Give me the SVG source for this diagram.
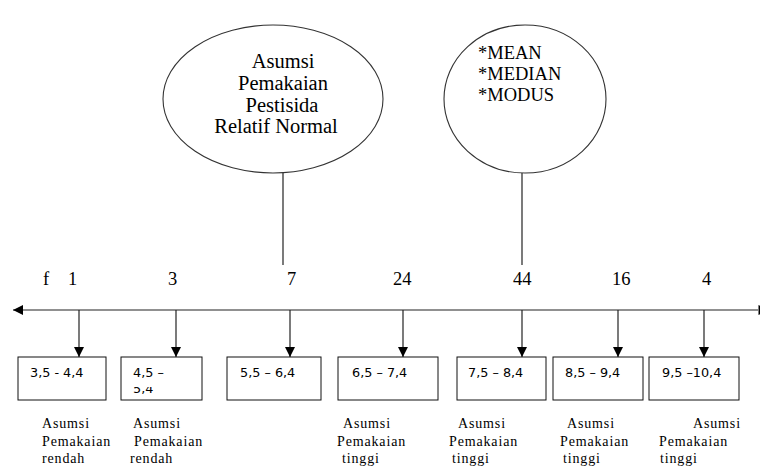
<svg xmlns="http://www.w3.org/2000/svg" width="760" height="468" viewBox="0 0 760 468">
<style>
.ln{stroke:#222;stroke-width:1.2;fill:none}
.shape{fill:#fff;stroke:#333;stroke-width:1.1}
.box{fill:#fff;stroke:#111;stroke-width:1}
.big{font-family:"Liberation Serif","Times New Roman","DejaVu Serif",serif;font-size:20.5px;fill:#000}
.num{font-family:"Liberation Serif","Times New Roman","DejaVu Serif",serif;font-size:18.5px;fill:#000}
.rng{font-family:"DejaVu Sans",sans-serif;font-size:12.8px;fill:#000}
.lab{font-family:"Liberation Serif","Times New Roman","DejaVu Serif",serif;font-size:14px;letter-spacing:0.85px;fill:#000}
</style>
<defs>
<marker id="ah" markerWidth="10" markerHeight="10" refX="10" refY="5" orient="auto" markerUnits="userSpaceOnUse">
<path d="M0,0 L10,5 L0,10 Z" fill="#000"/>
</marker>
<clipPath id="clip2"><rect x="121" y="387" width="81" height="13"/></clipPath>
</defs>
<g id="connectors">
<line class="ln" x1="758" y1="310" x2="13" y2="310" marker-end="url(#ah)"/>
<path d="M758.5,305 L768,310 L758.5,315 Z" fill="#000"/>
<line class="ln" x1="283" y1="173" x2="283" y2="265"/>
<line class="ln" x1="522" y1="173" x2="522" y2="265"/>
<line class="ln" x1="79" y1="310" x2="79" y2="357" marker-end="url(#ah)"/>
<line class="ln" x1="176" y1="310" x2="176" y2="357" marker-end="url(#ah)"/>
<line class="ln" x1="290" y1="310" x2="290" y2="357" marker-end="url(#ah)"/>
<line class="ln" x1="403" y1="310" x2="403" y2="357" marker-end="url(#ah)"/>
<line class="ln" x1="522" y1="310" x2="522" y2="357" marker-end="url(#ah)"/>
<line class="ln" x1="618" y1="310" x2="618" y2="357" marker-end="url(#ah)"/>
<line class="ln" x1="704" y1="310" x2="704" y2="357" marker-end="url(#ah)"/>
</g>
<g id="ellipse-normal">
<ellipse class="shape" cx="273" cy="99" rx="110" ry="74"/>
<text class="big" text-anchor="middle"><tspan x="283" y="68">Asumsi</tspan><tspan x="283" y="90">Pemakaian</tspan><tspan x="282" y="112">Pestisida</tspan><tspan x="276" y="133">Relatif Normal</tspan></text>
</g>
<g id="circle-stats">
<ellipse class="shape" cx="525" cy="99" rx="81" ry="74"/>
<text class="big" style="font-size:18.5px"><tspan x="478" y="59">*MEAN</tspan><tspan x="478" y="80">*MEDIAN</tspan><tspan x="478" y="101">*MODUS</tspan></text>
</g>
<g id="freq-labels">
<text class="num" x="43" y="285">f</text>
<text class="num" x="68" y="285">1</text>
<text class="num" x="168" y="285">3</text>
<text class="num" x="287" y="285">7</text>
<text class="num" x="393" y="285">24</text>
<text class="num" x="513" y="285">44</text>
<text class="num" x="612" y="285">16</text>
<text class="num" x="702" y="285">4</text>
</g>
<g id="box1">
<rect class="box" x="18" y="357" width="88" height="43"/>
<text class="rng" x="30" y="377">3,5 - 4,4</text>
</g>
<g id="box2">
<rect class="box" x="121" y="357" width="81" height="43"/>
<text class="rng" x="133" y="377">4,5 –</text>
<text class="rng" x="133" y="393" clip-path="url(#clip2)">5,4</text>
</g>
<g id="box3">
<rect class="box" x="227" y="357" width="94" height="43"/>
<text class="rng" x="240" y="377">5,5 – 6,4</text>
</g>
<g id="box4">
<rect class="box" x="338" y="357" width="100" height="43"/>
<text class="rng" x="352" y="377">6,5 – 7,4</text>
</g>
<g id="box5">
<rect class="box" x="457" y="357" width="89" height="43"/>
<text class="rng" x="468" y="377">7,5 – 8,4</text>
</g>
<g id="box6">
<rect class="box" x="553" y="357" width="90" height="43"/>
<text class="rng" x="565" y="377">8,5 – 9,4</text>
</g>
<g id="box7">
<rect class="box" x="649" y="357" width="90" height="43"/>
<text class="rng" x="662" y="377">9,5 –10,4</text>
</g>
<g id="labels">
<text class="lab"><tspan x="42" y="428">Asumsi</tspan><tspan x="42" y="446">Pemakaian</tspan><tspan x="42" y="463">rendah</tspan></text>
<text class="lab"><tspan x="133" y="428">Asumsi</tspan><tspan x="134" y="446">Pemakaian</tspan><tspan x="130" y="463">rendah</tspan></text>
<text class="lab"><tspan x="343" y="428">Asumsi</tspan><tspan x="337" y="446">Pemakaian</tspan><tspan x="342" y="463">tinggi</tspan></text>
<text class="lab"><tspan x="458" y="428">Asumsi</tspan><tspan x="449" y="446">Pemakaian</tspan><tspan x="452" y="463">tinggi</tspan></text>
<text class="lab"><tspan x="567" y="428">Asumsi</tspan><tspan x="560" y="446">Pemakaian</tspan><tspan x="563" y="463">tinggi</tspan></text>
<text class="lab"><tspan x="693" y="428">Asumsi</tspan><tspan x="659" y="446">Pemakaian</tspan><tspan x="660" y="463">tinggi</tspan></text>
</g>
</svg>
